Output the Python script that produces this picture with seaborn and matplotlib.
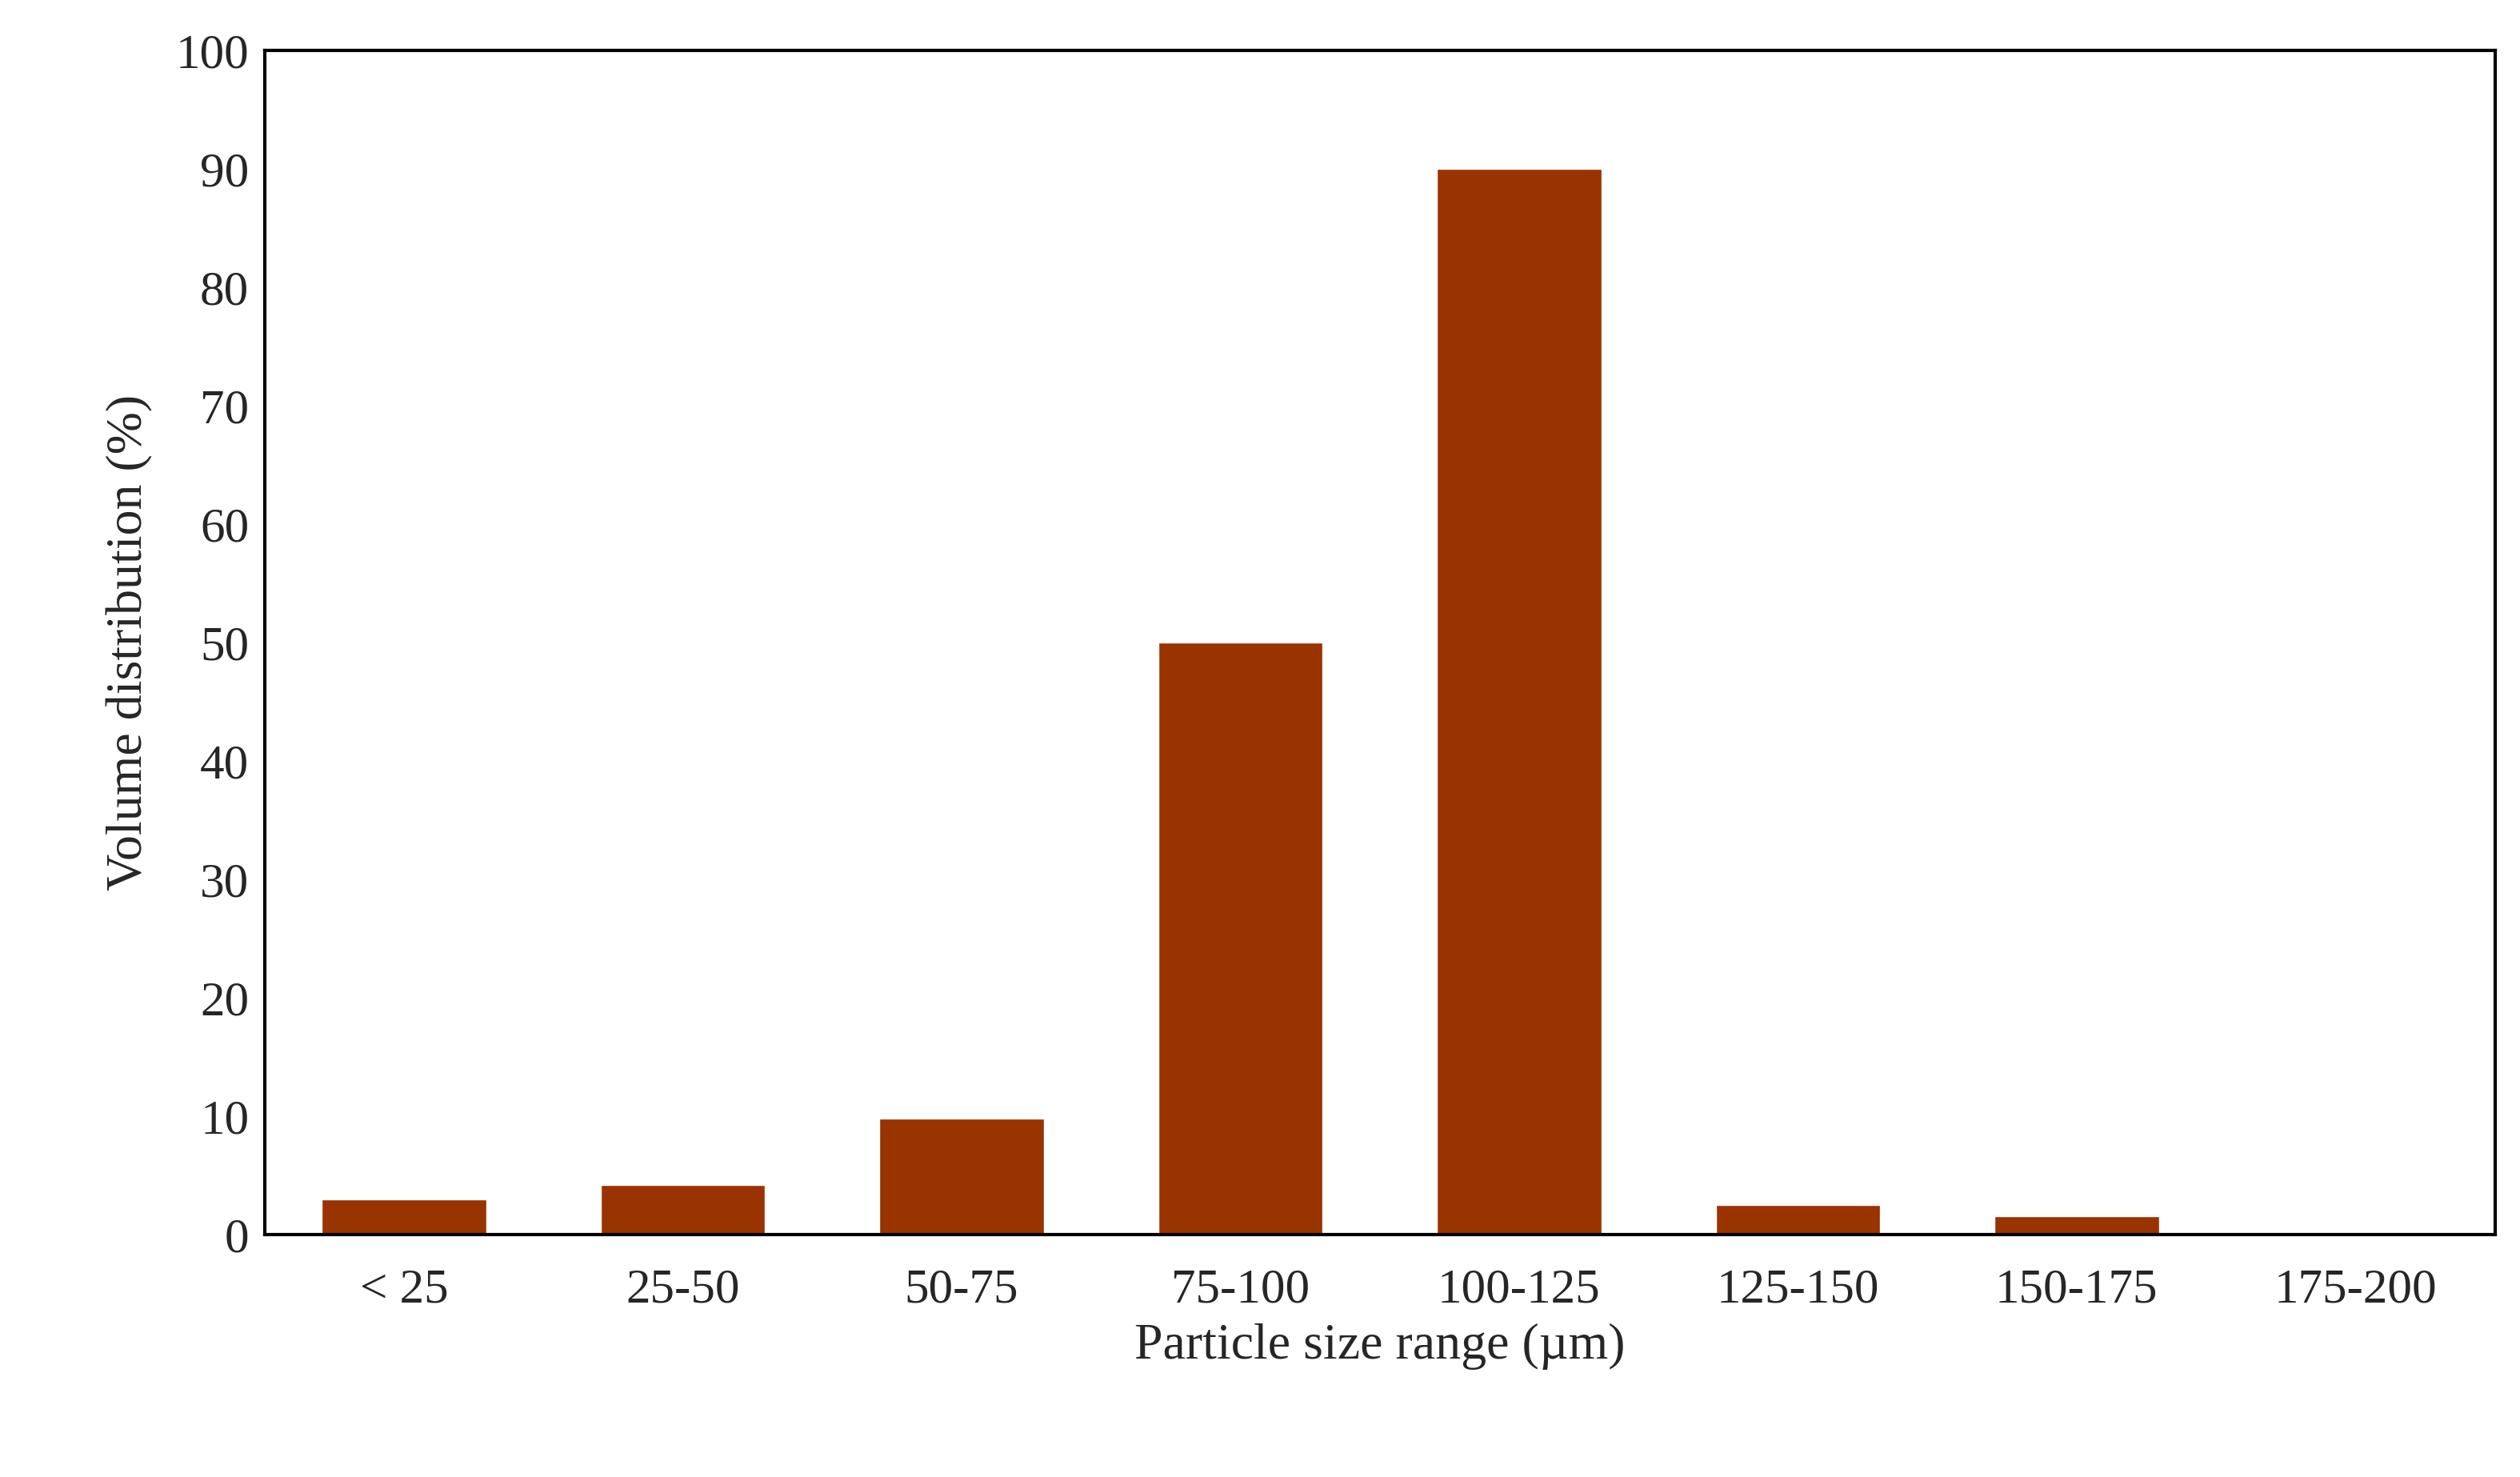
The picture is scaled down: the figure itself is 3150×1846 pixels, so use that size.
import matplotlib
matplotlib.use("Agg")
import matplotlib.pyplot as plt
import seaborn as sns
import pandas as pd

categories = ["< 25", "25-50", "50-75", "75-100", "100-125", "125-150", "150-175", "175-200"]
values = [3.0, 4.2, 9.8, 50.0, 90.0, 2.5, 1.6, 0.0]

sns.set_style("white")
plt.rcParams['font.family'] = ['Liberation Serif', 'DejaVu Serif']

df = pd.DataFrame({"cat": categories, "val": values})
fig = plt.figure(figsize=(31.5, 18.46), dpi=100)
ax = fig.add_axes([0.105, 0.164, 0.885, 0.802])
sns.barplot(data=df, x="cat", y="val", color="#993300", saturation=1, width=0.59, ax=ax)
ax.set_ylim(0, 100)
ax.set_yticks(range(0, 101, 10))
ax.set_xlim(-0.5, len(categories) - 0.5)
ax.tick_params(axis='both', labelsize=44, length=0, pad=14)
ax.tick_params(axis='x', pad=30)
ax.set_xlabel("Particle size range (µm)", fontsize=46, labelpad=10)
ax.set_ylabel("Volume distribution (%)", fontsize=46, labelpad=20)
for s in ax.spines.values():
    s.set_color("black")
    s.set_linewidth(3)
fig.savefig("out.png", dpi=100)
